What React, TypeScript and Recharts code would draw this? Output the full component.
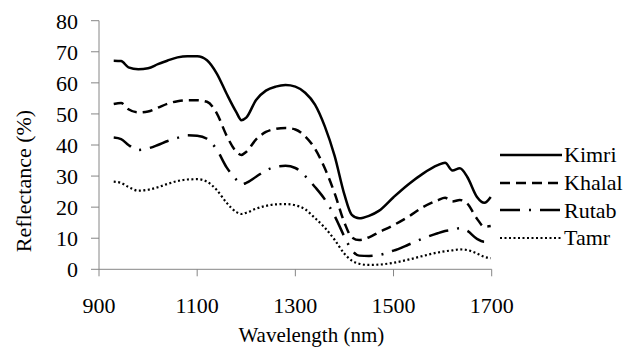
import React from 'react';
import { LineChart, Line, XAxis, YAxis, Legend } from 'recharts';

const wavelengths = [930, 945, 960, 980, 1000, 1020, 1040, 1060, 1080, 1100, 1120, 1140, 1160, 1180, 1190, 1200, 1220, 1240, 1260, 1280, 1300, 1320, 1340, 1360, 1380, 1400, 1415, 1430, 1450, 1470, 1500, 1530, 1560, 1590, 1605, 1620, 1635, 1650, 1670, 1685, 1698];

const kimri = [67.1, 67.0, 65.0, 64.4, 64.7, 66.0, 67.2, 68.2, 68.6, 68.6, 67.3, 63.0, 56.5, 50.5, 48.0, 48.8, 54.5, 57.5, 58.8, 59.3, 58.8, 56.8, 53.0, 46.0, 36.5, 24.0, 17.5, 16.4, 17.2, 18.8, 23.2, 27.3, 30.8, 33.5, 34.3, 31.8, 32.5, 29.8, 23.3, 21.4, 23.3];
const khalal = [53.2, 53.5, 51.5, 50.5, 50.8, 52.0, 53.3, 54.1, 54.4, 54.4, 53.9, 50.2, 43.0, 37.8, 36.8, 37.8, 41.8, 44.2, 45.2, 45.5, 45.0, 42.8, 38.8, 32.5, 24.5, 15.0, 10.3, 9.4, 10.3, 11.9, 14.2, 16.9, 20.0, 22.2, 23.0, 21.8, 22.3, 21.2, 16.3, 13.7, 13.9];
const rutab = [42.4, 41.9, 40.0, 38.4, 38.9, 40.0, 41.3, 42.3, 43.1, 43.0, 42.0, 38.5, 32.8, 28.8, 27.3, 27.8, 29.8, 31.8, 33.0, 33.3, 32.6, 30.0, 26.5, 22.5, 17.2, 10.5, 6.2, 4.4, 4.3, 4.6, 6.0, 7.9, 9.9, 11.6, 12.3, 12.7, 13.2, 12.4, 9.8, 8.9, 8.9];
const tamr = [28.2, 27.8, 26.5, 25.3, 25.6, 26.4, 27.5, 28.4, 28.9, 29.0, 28.2, 25.5, 21.4, 18.4, 17.8, 18.2, 19.5, 20.4, 20.9, 21.0, 20.6, 19.3, 16.5, 13.4, 9.5, 5.0, 2.8, 1.8, 1.4, 1.5, 2.1, 3.1, 4.3, 5.4, 5.8, 6.1, 6.4, 6.2, 5.1, 4.0, 3.6];

const xTicks = [900, 1100, 1300, 1500, 1700];
const yTicks = [0, 10, 20, 30, 40, 50, 60, 70, 80];

const seriesNames = ['Kimri', 'Khalal', 'Rutab', 'Tamr'];
const seriesKeys = ['kimri', 'khalal', 'rutab', 'tamr'];
const seriesDash = ['', '10 6', '20 9 2 9', '2 2.5'];
const seriesWidth = [2.5, 2.5, 2.5, 2.2];

const data = wavelengths.map((wl, i) => ({
  wl,
  kimri: kimri[i],
  khalal: khalal[i],
  rutab: rutab[i],
  tamr: tamr[i],
}));

const FONT = 'Liberation Serif';
const AXIS = '#868686';
const css = `.chart-root, .chart-root * { font-family: 'Liberation Serif', 'Times New Roman', serif !important; }`;

const renderLegend = () => (
  <div style={{ fontFamily: FONT, fontSize: 22, color: '#000' }}>
    {seriesNames.map((name, i) => (
      <div key={name} style={{ display: 'flex', alignItems: 'center', height: 27.7 }}>
        <svg width={64} height={10} style={{ display: 'block' }}>
          <line x1={1} y1={5} x2={63} y2={5} stroke="#000" strokeWidth={seriesWidth[i]} strokeDasharray={seriesDash[i] || undefined} />
        </svg>
        <span style={{ marginLeft: 1, lineHeight: '27px' }}>{name}</span>
      </div>
    ))}
  </div>
);

export default function App() {
  return (
    <div className="chart-root" style={{ position: 'absolute', left: 0, top: 0, fontFamily: FONT }}>
      <style>{css}</style>
      <LineChart width={643} height={347} data={data} margin={{ top: 20.7, right: 151.3, bottom: 0, left: 0 }} style={{ fontFamily: FONT }}>
        <XAxis
          dataKey="wl"
          type="number"
          domain={[900, 1700]}
          ticks={xTicks}
          tickSize={7}
          tickMargin={21}
          height={77.7}
          stroke={AXIS}
          tick={{ fill: '#000', fontSize: 22, fontFamily: FONT }}
          label={{
            content: ({ viewBox }: any) => (
              <text x={viewBox.x + viewBox.width / 2 + 16} y={342} textAnchor="middle" fontFamily={FONT} fontSize={21} fill="#000">
                Wavelength (nm)
              </text>
            ),
          }}
        />
        <YAxis
          domain={[0, 80]}
          ticks={yTicks}
          width={99}
          tickSize={8}
          tickMargin={13}
          stroke={AXIS}
          tick={{ fill: '#000', fontSize: 22, fontFamily: FONT }}
          label={{
            content: () => (
              <text x={31} y={181} transform="rotate(-90 31 181)" textAnchor="middle" fontFamily={FONT} fontSize={22} fill="#000">
                Reflectance (%)
              </text>
            ),
          }}
        />
        <Legend content={renderLegend} layout="vertical" align="center" verticalAlign="middle" wrapperStyle={{ left: 499, top: 141, width: 144 }} />
        {seriesKeys.map((k, i) => (
          <Line
            key={k}
            dataKey={k}
            name={seriesNames[i]}
            type="monotone"
            stroke="#000"
            strokeWidth={seriesWidth[i]}
            strokeDasharray={seriesDash[i] || undefined}
            dot={false}
            isAnimationActive={false}
          />
        ))}
      </LineChart>
    </div>
  );
}
